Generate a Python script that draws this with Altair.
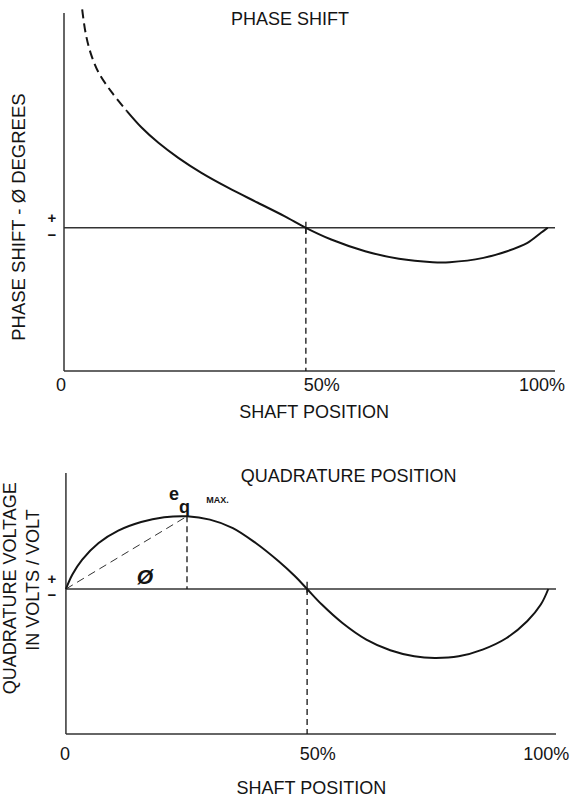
import altair as alt
import pandas as pd

# ---------------- data ----------------
# Panel 1: phase shift (degrees, arbitrary scale) vs shaft position (%)
phase_x = [3.76, 4.46, 5.49, 7.19, 9.93, 13.0, 16.09, 19.52, 23.63, 28.41,
           33.91, 40.07, 45.56, 50.0, 55.24, 62.25, 69.23, 76.22, 79.72,
           86.7, 91.61, 95.81, 98.6, 100.0]
phase_y = [91.5, 81.7, 73.3, 64.9, 56.6, 48.9, 41.9, 35.6, 29.3, 23.0,
           16.8, 10.5, 4.9, 0.0, -4.9, -9.8, -13.0, -14.4, -14.4,
           -12.6, -9.8, -6.3, -2.1, 0.0]
phase_dashed_points = 6          # first points belong to the dashed part

# Panel 2: quadrature voltage (volts/volt) vs shaft position (%)
quad_x = [0.0, 1.34, 3.38, 6.78, 10.85, 15.59, 20.36, 25.1, 29.85, 34.61,
          39.35, 44.1, 47.5, 50.0, 53.06, 57.32, 62.28, 67.23, 72.21, 76.47,
          81.43, 86.38, 91.36, 95.62, 98.45, 100.0]
quad_y = [0.0, 0.199, 0.405, 0.634, 0.805, 0.924, 0.989, 1.003, 0.957, 0.841,
          0.634, 0.382, 0.175, 0.0, -0.215, -0.469, -0.698, -0.845, -0.928,
          -0.951, -0.928, -0.836, -0.676, -0.445, -0.215, 0.0]
eq_max_x = 25.1
eq_max_y = 1.003

tick_labels = ["0", "50%", "100%"]

TOP_X = [0, 101.5]
TOP_Y = [-60, 90]
BOT_X = [-0.4, 101.6]
BOT_Y = [-2.0, 1.6]

FONT = "Liberation Sans"
INK = "#141414"
AXIS_INK = "#333333"
CURVE = "catmull-rom"


def sc(dom):
    return alt.Scale(domain=dom, nice=False, zero=False)


def line_layer(xv, yv, xdom, ydom, width=2.0, dash=None):
    df = pd.DataFrame({"x": xv, "y": yv, "i": range(len(xv))})
    kw = dict(strokeWidth=width, color=INK, interpolate=CURVE)
    if dash:
        kw["strokeDash"] = dash
    return alt.Chart(df).mark_line(**kw).encode(
        x=alt.X("x:Q", scale=sc(xdom), axis=None),
        y=alt.Y("y:Q", scale=sc(ydom), axis=None),
        order="i:Q",
    )


def seg_layer(segs, xdom, ydom, width=1.5, dash=None, color=AXIS_INK):
    df = pd.DataFrame(segs, columns=["x", "y", "x2", "y2"])
    kw = dict(strokeWidth=width, color=color)
    if dash:
        kw["strokeDash"] = dash
    return alt.Chart(df).mark_rule(**kw).encode(
        x=alt.X("x:Q", scale=sc(xdom), axis=None),
        y=alt.Y("y:Q", scale=sc(ydom), axis=None),
        x2="x2:Q",
        y2="y2:Q",
    )


def text_layer(items, xdom, ydom, size=18, weight="normal", angle=0,
               style="normal", align="center"):
    df = pd.DataFrame(items, columns=["t", "x", "y"])
    kw = dict(font=FONT, fontSize=size, fontWeight=weight, fontStyle=style,
              align=align, baseline="middle", color=INK)
    if angle:
        kw["angle"] = angle
    return alt.Chart(df).mark_text(**kw).encode(
        x=alt.X("x:Q", scale=sc(xdom), axis=None),
        y=alt.Y("y:Q", scale=sc(ydom), axis=None),
        text="t:N",
    )


# ---------------- panel 1: PHASE SHIFT ----------------
top_axes = seg_layer([
    [0, TOP_Y[0], 0, TOP_Y[1]],            # y axis
    [0, TOP_Y[0], TOP_X[1], TOP_Y[0]],     # x axis
    [0, 0, TOP_X[1], 0],                   # zero line
    [50, -2.5, 50, 2.5],                   # small tick at 50 %
], TOP_X, TOP_Y, width=1.5)

top_drop = seg_layer([[50, 0, 50, TOP_Y[0]]], TOP_X, TOP_Y,
                     width=1.3, dash=[6, 4], color=INK)

k = phase_dashed_points
top_dashed = line_layer(phase_x[:k], phase_y[:k], TOP_X, TOP_Y,
                        width=2.0, dash=[9, 5])
top_solid = line_layer(phase_x[k - 1:], phase_y[k - 1:], TOP_X, TOP_Y, width=2.0)

top_texts = text_layer([
    ["PHASE SHIFT", 46.7, 87.1],
    [tick_labels[0], -0.6, -66.3],
    [tick_labels[1], 53.3, -66.3],
    [tick_labels[2], 98.8, -66.3],
    ["SHAFT POSITION", 51.7, -77.6],
], TOP_X, TOP_Y, size=18)

top_signs = text_layer([
    ["+", -2.5, 4.1],
    ["\u2212", -2.5, -3.0],
], TOP_X, TOP_Y, size=15, weight="bold")

top_ytitle = text_layer([
    ["PHASE SHIFT - \u00d8 DEGREES", -9.3, 4.5],
], TOP_X, TOP_Y, size=18.5, angle=270)

top = alt.layer(top_axes, top_drop, top_dashed, top_solid, top_texts,
                top_signs, top_ytitle).properties(width=491, height=358)

# ---------------- panel 2: QUADRATURE POSITION ----------------
bot_axes = seg_layer([
    [0, BOT_Y[0], 0, BOT_Y[1]],
    [0, BOT_Y[0], BOT_X[1], BOT_Y[0]],
    [0, 0, BOT_X[1], 0],
    [50, -0.05, 50, 0.1],
], BOT_X, BOT_Y, width=1.5)

bot_dash = seg_layer([
    [50, 0, 50, BOT_Y[0]],
    [eq_max_x, eq_max_y, eq_max_x, 0],
], BOT_X, BOT_Y, width=1.3, dash=[6, 4], color=INK)

bot_diag = seg_layer([
    [0, 0, eq_max_x, eq_max_y],
], BOT_X, BOT_Y, width=1.0, dash=[8, 5], color="#333333")

bot_curve = line_layer(quad_x, quad_y, BOT_X, BOT_Y, width=2.0)

bot_texts = text_layer([
    ["QUADRATURE POSITION", 58.6, 1.545],
    [tick_labels[0], -0.2, -2.29],
    [tick_labels[1], 52.2, -2.29],
    [tick_labels[2], 99.6, -2.29],
    ["SHAFT POSITION", 50.9, -2.76],
], BOT_X, BOT_Y, size=18)

bot_signs = text_layer([
    ["+", -2.9, 0.138],
    ["\u2212", -2.9, -0.083],
], BOT_X, BOT_Y, size=15, weight="bold")

bot_eq = text_layer([
    ["e", 22.4, 1.30],
    ["q", 24.6, 1.12],
], BOT_X, BOT_Y, size=18, weight="bold")

bot_max = text_layer([["MAX.", 31.4, 1.23]], BOT_X, BOT_Y, size=9, weight="bold")

bot_phi = text_layer([["\u00d8", 16.4, 0.152]], BOT_X, BOT_Y, size=21,
                     weight="bold", style="italic")

bot_ytitle = text_layer([
    ["QUADRATURE VOLTAGE", -11.3, 0.01],
    ["IN VOLTS / VOLT", -6.65, 0.124],
], BOT_X, BOT_Y, size=18, angle=270)

bottom = alt.layer(bot_axes, bot_dash, bot_diag, bot_curve, bot_texts,
                   bot_signs, bot_eq, bot_max, bot_phi,
                   bot_ytitle).properties(width=492, height=261)

chart = alt.vconcat(top, bottom, spacing=102, bounds="flush").properties(
    padding={"left": 2, "top": 5, "right": 0, "bottom": 0},
    background="white",
).configure_view(stroke=None)

chart.save("out.html", embed_options={"renderer": "svg", "actions": False})
